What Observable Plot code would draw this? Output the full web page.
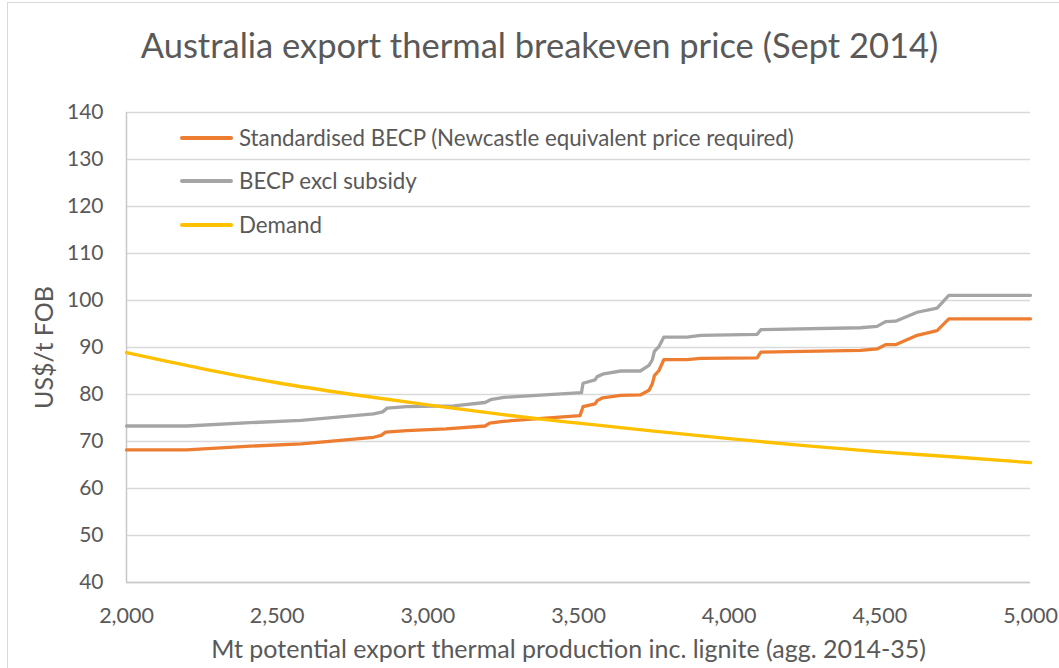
<!DOCTYPE html>
<html><head><meta charset="utf-8">
<script src="https://cdn.jsdelivr.net/npm/d3@7"></script>
<script src="https://cdn.jsdelivr.net/npm/@observablehq/plot@0.6"></script>
<style>
body{margin:0;overflow:hidden;background:#fff;}
#wrap{position:relative;width:1059px;height:668px;overflow:hidden;font-family:Lato,sans-serif;color:#595959;}
#border{position:absolute;left:7px;top:2px;width:1200px;height:800px;border:1.5px solid #d9d9d9;box-sizing:border-box;}
#chart{position:absolute;left:0;top:0;}
.lg{position:absolute;left:180px;height:0;display:flex;align-items:center;font-size:22.3px;white-space:nowrap;line-height:1;}
.sw{display:inline-block;width:53px;height:3.3px;margin-right:6px;border-radius:2px;}
</style></head>
<body>
<div id="wrap">
  <div id="border"></div>
  <div id="chart"></div>
  <div id="legend"></div>
</div>
<script>
const title = "Australia export thermal breakeven price (Sept 2014)";
const yLabel = "US$/t FOB";
const xLabel = "Mt potential export thermal production inc. lignite (agg. 2014-35)";
const seriesNames = ["Standardised BECP (Newcastle equivalent price required)", "BECP excl subsidy", "Demand"];
const seriesColors = ["#ED7D31", "#A5A5A5", "#FFC000"];
const yTicks = [40, 50, 60, 70, 80, 90, 100, 110, 120, 130, 140];
const xTicks = [2000, 2500, 3000, 3500, 4000, 4500, 5000];

const standardX = [2000,2200,2410,2580,2820,2845,2860,2930,3060,3190,3205,3250,3505,3515,3555,3562,3580,3640,3705,3734,3745,3752,3767,3783,3860,3905,4093,4105,4436,4491,4519,4552,4624,4690,4729,5000];
const standardY = [68.2,68.2,69.0,69.5,70.9,71.3,72.0,72.3,72.7,73.3,73.9,74.3,75.5,77.4,78.0,78.7,79.3,79.8,79.9,80.9,82.3,84.0,85.1,87.4,87.4,87.7,87.8,89.0,89.4,89.7,90.6,90.6,92.6,93.6,96.1,96.1];

const exclX = [2000,2200,2410,2580,2820,2850,2865,2930,3086,3190,3208,3252,3510,3515,3555,3562,3584,3640,3705,3734,3745,3752,3767,3783,3860,3905,4093,4105,4436,4491,4519,4552,4624,4690,4729,5000];
const exclY = [73.3,73.3,74.0,74.5,75.9,76.3,77.1,77.4,77.6,78.3,78.9,79.4,80.4,82.4,83.1,83.8,84.4,85.0,85.0,86.2,87.4,89.2,90.2,92.2,92.2,92.6,92.8,93.8,94.2,94.5,95.5,95.6,97.5,98.4,101.1,101.1];

const demandX = [2000,2250,2500,2750,3000,3250,3500,3750,4000,4250,4500,4750,5000];
const demandY = [88.9,85.5,82.5,80.0,77.8,75.7,73.9,72.2,70.6,69.1,67.8,66.7,65.5];

const toRows = (xs, ys) => xs.map((x, i) => ({x, y: ys[i]}));
const standard = toRows(standardX, standardY);
const excl = toRows(exclX, exclY);
const demand = toRows(demandX, demandY);

const lineStyle = {x: "x", y: "y", strokeWidth: 3.3, strokeLinejoin: "round", strokeLinecap: "round"};

const plot = Plot.plot({
  width: 1059, height: 668,
  marginLeft: 126, marginRight: 29, marginTop: 112, marginBottom: 86,
  x: {domain: [2000, 5000]},
  y: {domain: [40, 140]},
  style: {fontFamily: "Lato, sans-serif", color: "#595959", background: "transparent", overflow: "visible"},
  marks: [
    Plot.gridY(yTicks, {stroke: "#d9d9d9", strokeOpacity: 1, strokeWidth: 1.5}),
    Plot.ruleX([2000], {stroke: "#c8c8c8", strokeWidth: 1.5}),
    Plot.ruleY([40], {stroke: "#c8c8c8", strokeWidth: 1.5}),
    Plot.axisY(yTicks, {tickSize: 0, tickPadding: 23, fontSize: 21, label: null}),
    Plot.axisX(xTicks, {tickSize: 0, tickPadding: 25, fontSize: 21.5, tickFormat: d3.format(","), label: null}),
    Plot.line(standard, {...lineStyle, stroke: seriesColors[0]}),
    Plot.line(excl, {...lineStyle, stroke: seriesColors[1]}),
    Plot.line(demand, {...lineStyle, stroke: seriesColors[2], curve: "monotone-x"}),
    Plot.text([title], {frameAnchor: "top", textAnchor: "middle", lineAnchor: "bottom", dx: -39, dy: -55, fontSize: 34.5, fill: "#595959"}),
    Plot.text([yLabel], {frameAnchor: "left", textAnchor: "middle", rotate: -90, lineAnchor: "middle", dx: -82, fontSize: 25, fill: "#595959"}),
    Plot.text([xLabel], {frameAnchor: "bottom", textAnchor: "middle", lineAnchor: "bottom", dx: -10, dy: 75, fontSize: 25, fill: "#595959"})
  ]
});
document.getElementById("chart").appendChild(plot);

const legendTops = [138, 181, 225];
const legend = document.getElementById("legend");
seriesNames.forEach((name, i) => {
  const d = document.createElement("div");
  d.className = "lg";
  d.style.top = legendTops[i] + "px";
  const sw = document.createElement("span");
  sw.className = "sw";
  sw.style.background = seriesColors[i];
  d.appendChild(sw);
  d.appendChild(document.createTextNode(name));
  legend.appendChild(d);
});
</script>
</body></html>
